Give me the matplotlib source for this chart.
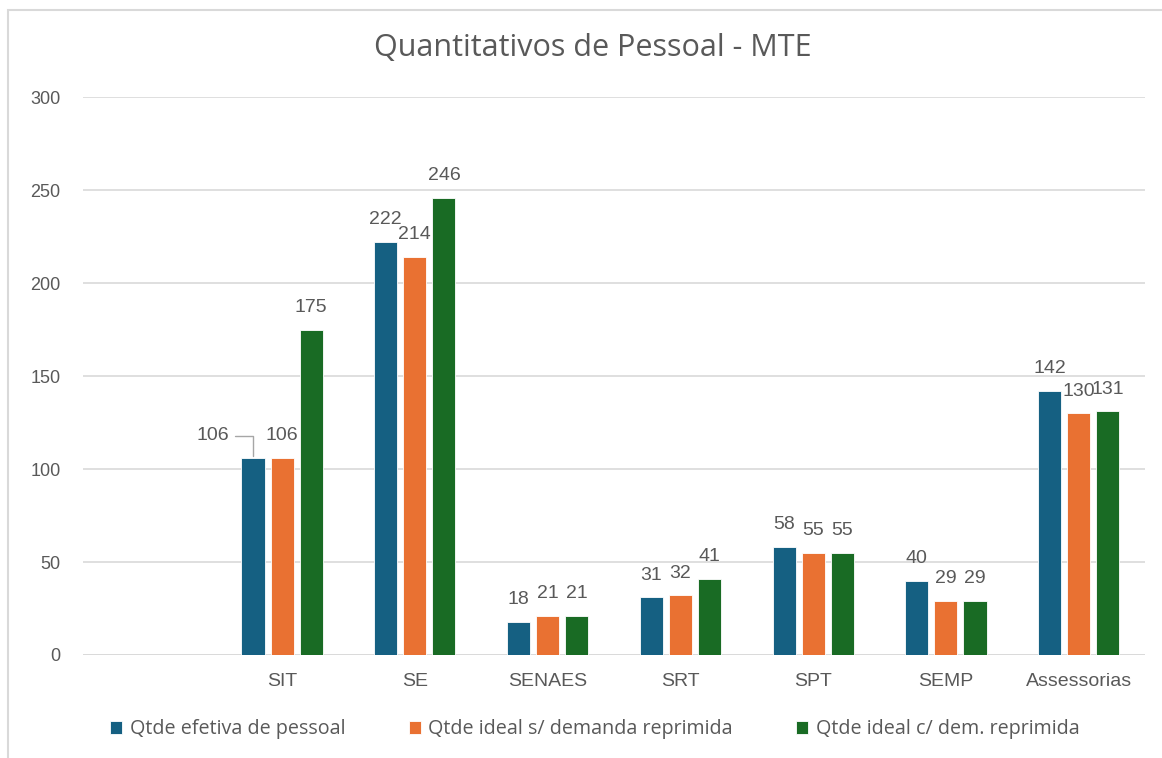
import numpy as np
import matplotlib
matplotlib.use("Agg")
from matplotlib import pyplot as plt
from matplotlib.patches import Rectangle

# dados do grafico
categorias = ["", "SIT", "SE", "SENAES", "SRT", "SPT", "SEMP", "Assessorias"]
efetiva = [None, 106, 222, 18, 31, 58, 40, 142]
ideal_sem = [None, 106, 214, 21, 32, 55, 29, 130]
ideal_com = [None, 175, 246, 21, 41, 55, 29, 131]
series_nomes = ["Qtde efetiva de pessoal",
                "Qtde ideal s/ demanda reprimida",
                "Qtde ideal c/ dem. reprimida"]
cores = ["#156082", "#E97132", "#196B24"]

txt_cor = "#595959"
plt.rcParams["font.family"] = ["Liberation Sans", "DejaVu Sans"]

fig = plt.figure(figsize=(11.62, 7.58), dpi=100)
ax = fig.add_axes([0.0714, 0.1359, 0.914, 0.736])

x = np.arange(len(categorias))
passo = 0.219
largura = 0.174

barras = []
for i, (vals, nome, cor) in enumerate(zip([efetiva, ideal_sem, ideal_com], series_nomes, cores)):
    vv = [np.nan if v is None else v for v in vals]
    b = ax.bar(x + (i - 1) * passo, vv, largura, color=cor, label=nome,
               edgecolor="white", linewidth=0.6, zorder=3)
    barras.append(b)
    for xi, v in zip(x + (i - 1) * passo, vals):
        if v is None:
            continue
        if i == 0 and categorias[int(round(xi + passo))] == "SIT":
            # rotulo deslocado com linha de chamada
            ax.annotate(str(v), xy=(xi, v), xytext=(-29, 16), textcoords="offset points",
                        ha="center", va="center", fontsize=14, color=txt_cor,
                        arrowprops=dict(arrowstyle="-", color="#a6a6a6", lw=1,
                                        shrinkA=2, shrinkB=1,
                                        connectionstyle="angle,angleA=0,angleB=90,rad=0"))
        else:
            ax.annotate(str(v), xy=(xi, v), xytext=(0, 16), textcoords="offset points",
                        ha="center", va="center", fontsize=14, color=txt_cor)

ax.set_xlim(-0.5, len(categorias) - 0.5)
ax.set_ylim(0, 300)
ax.set_yticks(range(0, 301, 50))
ax.set_xticks(x)
ax.set_xticklabels(categorias)
ax.tick_params(axis="both", length=0, labelsize=13, colors=txt_cor)
ax.tick_params(axis="x", labelsize=14, pad=13)
ax.tick_params(axis="y", pad=16)
ax.grid(axis="y", color="#d9d9d9", lw=1.2, zorder=0)
for s in ax.spines.values():
    s.set_visible(False)
ax.axhline(0, color="#d9d9d9", lw=1.2, zorder=1)

fig.text(0.51, 0.937, "Quantitativos de Pessoal - MTE", ha="center", va="center",
         fontsize=22, color=txt_cor, family=["Open Sans", "DejaVu Sans"])

fig.legend(handles=barras, labels=series_nomes, loc="center", ncol=3,
           bbox_to_anchor=(0.512, 0.038), frameon=False,
           labelcolor=txt_cor, handlelength=0.6, handleheight=0.6,
           handletextpad=0.4, columnspacing=3.2,
           prop={"family": ["Open Sans", "DejaVu Sans"], "size": 14.2})

# moldura do grafico
fig.patches.append(Rectangle((8 / 1162, -0.05), 1.2, 1 - 10 / 758 + 0.05,
                             transform=fig.transFigure, fill=False,
                             edgecolor="#d9d9d9", lw=1.5))

fig.savefig("out.png", dpi=100, facecolor="white")
